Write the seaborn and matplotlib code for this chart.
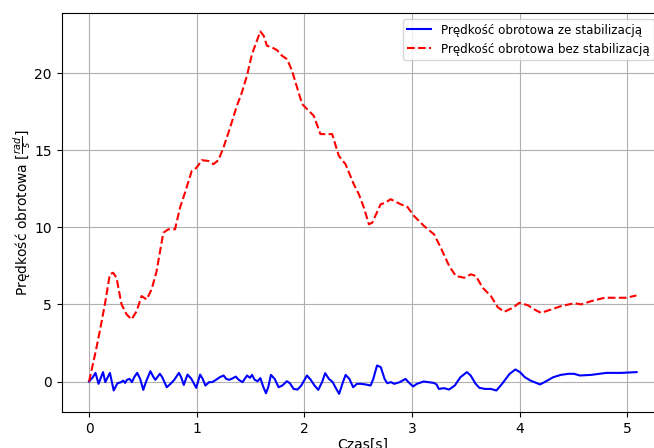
import numpy as np
import pandas as pd
import matplotlib as mpl; mpl.use("Agg")
import matplotlib.pyplot as plt
import seaborn as sns

# Czas i prędkość obrotowa - ze stabilizacją
t_stab = [0.0, 0.035, 0.060, 0.088, 0.130, 0.151, 0.194, 0.229, 0.264, 0.299,
          0.317, 0.335, 0.352, 0.377, 0.398, 0.423, 0.447, 0.475, 0.504, 0.528,
          0.570, 0.599, 0.616, 0.658, 0.680, 0.722, 0.757, 0.792, 0.835, 0.856,
          0.880, 0.915, 0.951, 0.996, 1.032, 1.056, 1.081, 1.116, 1.144, 1.180,
          1.215, 1.250, 1.275, 1.303, 1.338, 1.363, 1.391, 1.426, 1.468, 1.496,
          1.514, 1.539, 1.567, 1.592, 1.620, 1.644, 1.665, 1.690, 1.725, 1.761,
          1.796, 1.838, 1.866, 1.901, 1.937, 1.972, 2.025, 2.060, 2.095, 2.130,
          2.165, 2.194, 2.229, 2.264, 2.289, 2.324, 2.359, 2.384, 2.419, 2.454,
          2.489, 2.525, 2.570, 2.616, 2.641, 2.676, 2.711, 2.746, 2.771, 2.806,
          2.835, 2.887, 2.940, 2.968, 3.011, 3.046, 3.109, 3.151, 3.204, 3.229,
          3.250, 3.299, 3.345, 3.398, 3.451, 3.511, 3.546, 3.592, 3.627, 3.680,
          3.732, 3.785, 3.838, 3.908, 3.961, 4.004, 4.049, 4.102, 4.190, 4.243,
          4.313, 4.384, 4.454, 4.507, 4.560, 4.665, 4.806, 4.947, 5.088]
v_stab = [0.0, 0.28, 0.56, -0.15, 0.61, -0.04, 0.56, -0.58, -0.11, -0.04,
          0.06, -0.09, 0.11, 0.17, -0.04, 0.32, 0.56, 0.17, -0.54, -0.04,
          0.67, 0.28, 0.11, 0.50, 0.28, -0.37, -0.15, 0.11, 0.56, 0.28,
          -0.22, 0.45, 0.17, -0.41, 0.45, 0.17, -0.26, -0.04, -0.04, 0.11,
          0.28, 0.39, 0.17, 0.11, 0.22, 0.32, 0.11, -0.04, 0.39, 0.24,
          0.43, 0.11, 0.02, 0.22, -0.37, -0.76, -0.37, 0.43, 0.17, -0.37,
          -0.26, 0.02, -0.11, -0.48, -0.52, -0.26, 0.39, 0.11, -0.26, -0.54,
          -0.04, 0.54, 0.17, -0.04, -0.37, -0.80, -0.04, 0.43, 0.17, -0.37,
          -0.15, -0.15, -0.19, -0.26, 0.17, 1.04, 0.93, 0.17, -0.11, -0.04,
          -0.15, -0.04, 0.17, -0.04, -0.32, -0.15, 0.0, -0.04, -0.09, -0.19,
          -0.48, -0.43, -0.52, -0.26, 0.28, 0.61, 0.39, -0.15, -0.41, -0.48,
          -0.48, -0.58, -0.15, 0.50, 0.78, 0.61, 0.28, 0.06, -0.19, 0.0,
          0.28, 0.43, 0.50, 0.50, 0.39, 0.43, 0.56, 0.56, 0.61]

# Czas i prędkość obrotowa - bez stabilizacji
t_bez = [0.0, 0.062, 0.100, 0.147, 0.193, 0.224, 0.255, 0.302, 0.349, 0.395,
         0.442, 0.488, 0.535, 0.581, 0.628, 0.690, 0.737, 0.799, 0.845, 0.892,
         0.954, 1.000, 1.048, 1.109, 1.156, 1.202, 1.249, 1.311, 1.374, 1.420,
         1.467, 1.514, 1.560, 1.591, 1.622, 1.653, 1.700, 1.746, 1.793, 1.840,
         1.886, 1.933, 1.980, 2.026, 2.088, 2.150, 2.259, 2.321, 2.383, 2.460,
         2.507, 2.554, 2.600, 2.632, 2.709, 2.756, 2.802, 2.896, 2.958, 3.020,
         3.113, 3.206, 3.268, 3.346, 3.408, 3.486, 3.548, 3.595, 3.657, 3.734,
         3.797, 3.858, 3.937, 3.998, 4.076, 4.138, 4.200, 4.294, 4.387, 4.510,
         4.573, 4.666, 4.790, 4.915, 4.992, 5.086]
v_bez = [0.0, 1.96, 3.27, 5.00, 6.95, 7.05, 6.73, 5.00, 4.35, 4.03,
         4.56, 5.54, 5.32, 5.97, 7.16, 9.65, 9.87, 9.87, 11.27, 12.25,
         13.65, 13.87, 14.35, 14.30, 14.09, 14.35, 15.17, 16.47, 17.88, 18.74,
         19.82, 21.23, 22.10, 22.70, 22.42, 21.77, 21.66, 21.49, 21.12, 20.90,
         20.15, 19.06, 17.99, 17.66, 17.23, 16.04, 16.04, 14.63, 14.09, 12.79,
         12.14, 11.27, 10.19, 10.30, 11.49, 11.60, 11.82, 11.49, 11.32, 10.73,
         10.08, 9.54, 8.68, 7.49, 6.84, 6.73, 6.95, 6.84, 6.08, 5.54,
         4.82, 4.52, 4.78, 5.10, 4.95, 4.67, 4.45, 4.67, 4.89, 5.08,
         5.00, 5.21, 5.43, 5.43, 5.43, 5.58]

fig = plt.figure(figsize=(6.54, 4.48), dpi=100)
ax = fig.add_axes([0.0943, 0.0804, 0.921, 0.890])

sns.lineplot(x=t_stab, y=v_stab, ax=ax, color="blue", linewidth=1.5,
             estimator=None, sort=False, label="Prędkość obrotowa ze stabilizacją")
sns.lineplot(x=t_bez, y=v_bez, ax=ax, color="red", linewidth=1.5, linestyle="--",
             estimator=None, sort=False, label="Prędkość obrotowa bez stabilizacją")

ax.set_xlabel("Czas[s]", labelpad=1.5)
ax.set_ylabel(r"Prędkość obrotowa [$\frac{rad}{s}$]", labelpad=0.5)
ax.set_yticks([0, 5, 10, 15, 20])
ax.grid(True)
ax.legend(loc="upper left", bbox_to_anchor=(0.566, 0.986), borderaxespad=0,
          fontsize=8.6)

plt.savefig("out.png", dpi=100)
